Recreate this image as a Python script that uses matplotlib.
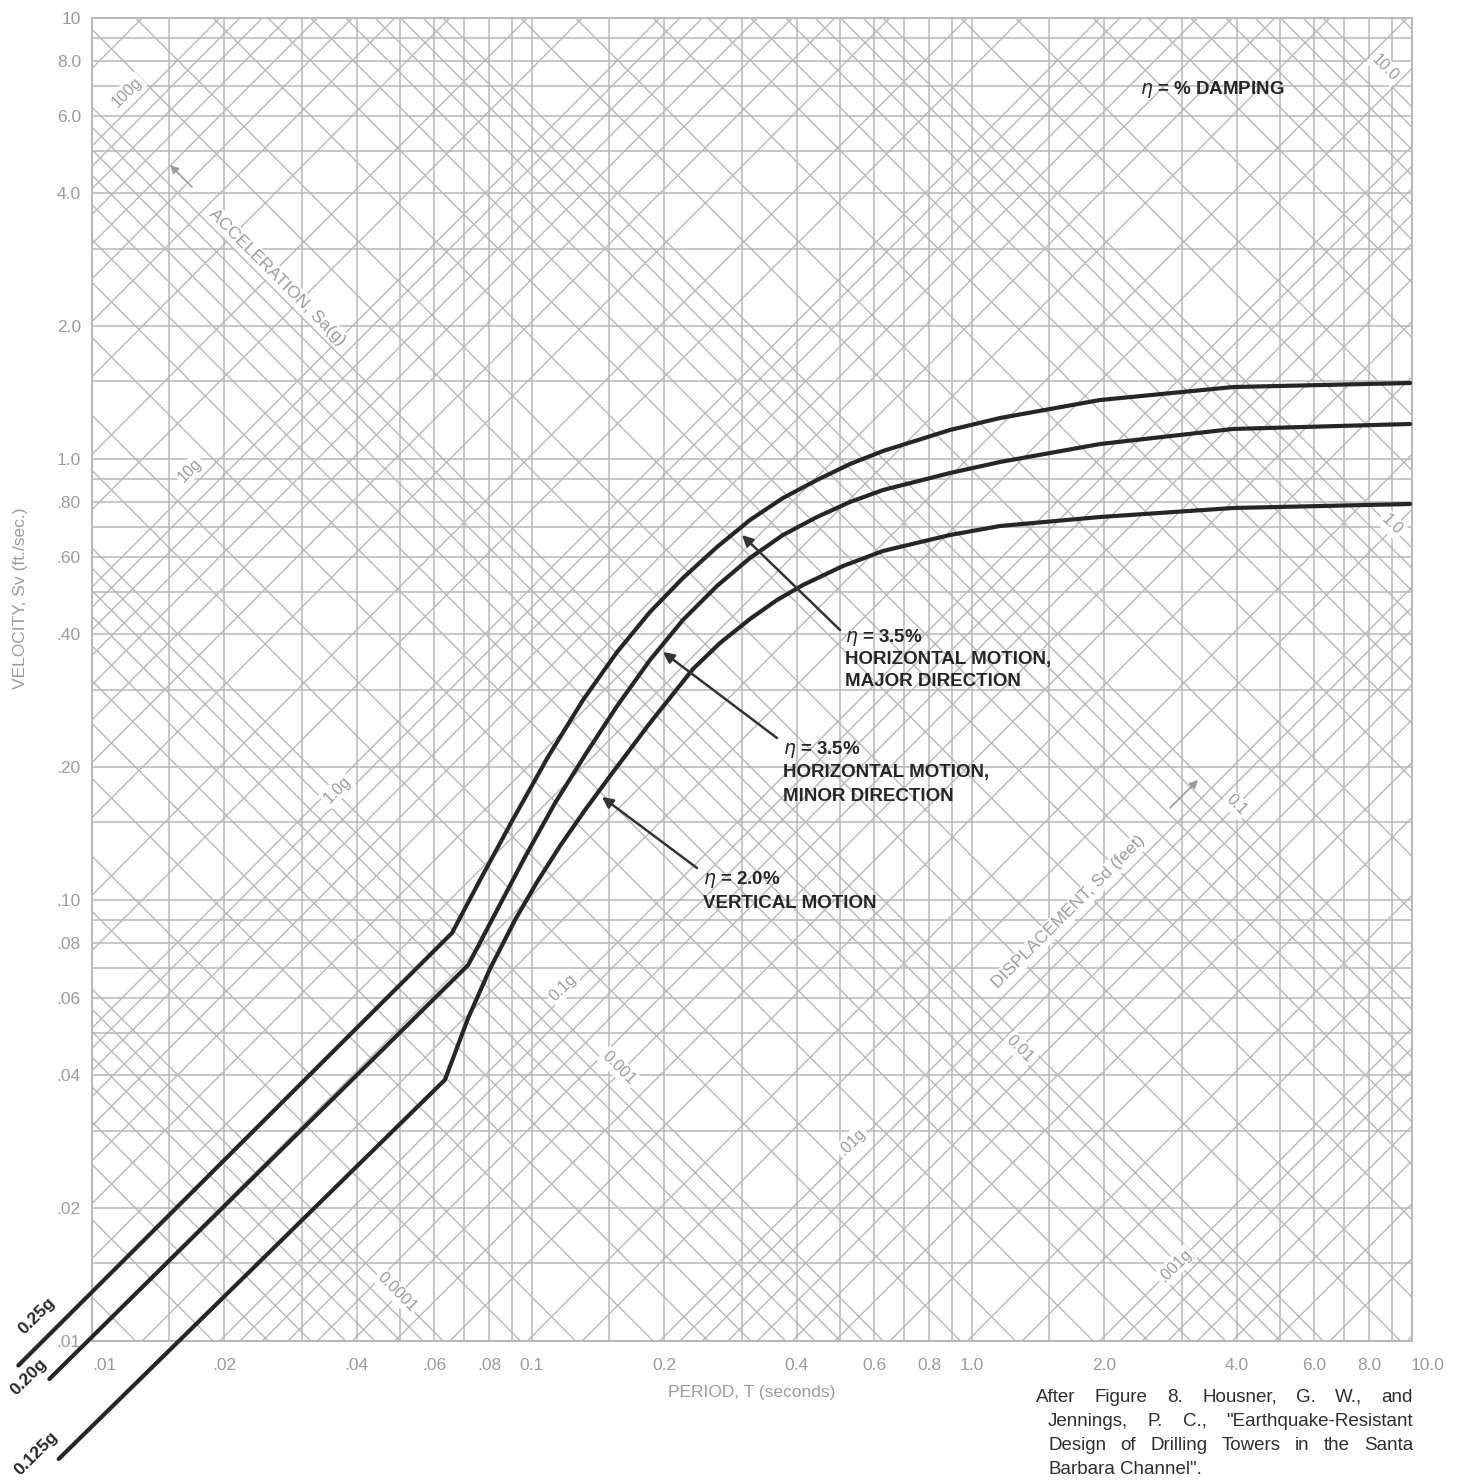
import numpy as np
import matplotlib
matplotlib.use("Agg")
import matplotlib.pyplot as plt
from matplotlib.transforms import IdentityTransform, ScaledTranslation

# ---------------- data ----------------
# Period T (s) and pseudo-velocity Sv (ft/s) for the three design spectra
T_major = [0.0068, 0.0658, 0.0762, 0.0901, 0.1087, 0.1306, 0.1561, 0.1854, 0.2203,
           0.2633, 0.3129, 0.3719, 0.4444, 0.5281, 0.6277, 0.8913, 1.158, 1.954, 3.920, 9.90]
V_major = [0.0088, 0.0842, 0.1110, 0.1511, 0.2110, 0.2841, 0.3651, 0.4498, 0.5372,
           0.6316, 0.7273, 0.8158, 0.8962, 0.9742, 1.0427, 1.1636, 1.2386, 1.3606, 1.4561, 1.4870]

T_minor = [0.0080, 0.0716, 0.0833, 0.0964, 0.1128, 0.1320, 0.1561, 0.1854, 0.2203,
           0.2633, 0.3129, 0.3719, 0.4444, 0.5281, 0.6277, 0.8913, 1.158, 1.954, 3.920, 9.90]
V_minor = [0.0082, 0.0712, 0.0949, 0.1252, 0.1659, 0.2132, 0.2754, 0.3501, 0.4315,
           0.5153, 0.5964, 0.6725, 0.7387, 0.7989, 0.8506, 0.9295, 0.9845, 1.0814, 1.1697, 1.2006]

T_vert = [0.0084, 0.0634, 0.0716, 0.0802, 0.0915, 0.1027, 0.1158, 0.1320, 0.1505,
          0.1854, 0.2322, 0.2675, 0.3129, 0.3604, 0.4130, 0.5091, 0.6277, 0.8913,
          1.158, 1.954, 3.920, 9.90]
V_vert = [0.0054, 0.0391, 0.0540, 0.0697, 0.0901, 0.1099, 0.1326, 0.1600, 0.1911,
          0.2520, 0.3341, 0.3826, 0.4337, 0.4789, 0.5180, 0.5720, 0.6186, 0.6725,
          0.7048, 0.7387, 0.7743, 0.7906]

curve_g_labels = ["0.25g", "0.20g", "0.125g"]

x_tick_values = [0.01, 0.02, 0.04, 0.06, 0.08, 0.1, 0.2, 0.4, 0.6, 0.8, 1, 2, 4, 6, 8, 10]
x_tick_labels = [".01", ".02", ".04", ".06", ".08", "0.1", "0.2", "0.4", "0.6", "0.8",
                 "1.0", "2.0", "4.0", "6.0", "8.0", "10.0"]
y_tick_values = [0.01, 0.02, 0.04, 0.06, 0.08, 0.1, 0.2, 0.4, 0.6, 0.8, 1, 2, 4, 6, 8, 10]
y_tick_labels = [".01", ".02", ".04", ".06", ".08", ".10", ".20", ".40", ".60", ".80",
                 "1.0", "2.0", "4.0", "6.0", "8.0", "10"]

grid_multipliers = [1, 1.5, 2, 3, 4, 5, 6, 7, 8, 9]
accel_labels = ["100g", "10g", "1.0g", "0.1g", ".01g", ".001g"]
disp_labels = ["10.0", "1.0", "0.1", "0.01", "0.001", "0.0001"]

caption_lines = ['After  Figure 8. Housner, G. W., and',
                 'Jennings, P. C., "Earthquake-Resistant',
                 'Design of Drilling Towers in the Santa',
                 'Barbara Channel".']

# ---------------- layout / style ----------------
W, H, DPI = 1468, 1484, 100
GRID = "#b8b8b8"
TICKC = "#9c9c9c"
INK = "#262626"
FONT = "Liberation Sans"
plt.rcParams["font.family"] = [FONT, "DejaVu Sans"]
plt.rcParams["mathtext.fontset"] = "dejavusans"

fig = plt.figure(figsize=(W / DPI, H / DPI), dpi=DPI)
fig.patch.set_facecolor("white")
AX_L, AX_R, AX_T, AX_B = 92, 1412, 18, 1341
ax = fig.add_axes([AX_L / W, 1 - AX_B / H, (AX_R - AX_L) / W, (AX_B - AX_T) / H])
ax.set_xscale("log")
ax.set_yscale("log")
ax.set_xlim(0.01, 10)
ax.set_ylim(0.01, 10)
ax.set_autoscale_on(False)


def fp(x, y):
    """reference pixel (top-left origin) -> figure pixels"""
    return (x, H - y)


# orthogonal grid
for k in range(-2, 1):
    for m in grid_multipliers:
        v = m * 10.0 ** k
        ax.axvline(v, color=GRID, lw=1.1, zorder=1)
        ax.axhline(v, color=GRID, lw=1.1, zorder=1)

# diagonal grid (tripartite): constant acceleration and constant displacement
G_FT = 32.2
Tline = np.array([1e-3, 1e2])
for k in range(-4, 3):
    for m in grid_multipliers:
        a = m * 10.0 ** k
        ax.plot(Tline, a * G_FT * Tline / (2 * np.pi), color=GRID, lw=1.0, zorder=1)
for k in range(-5, 2):
    for m in grid_multipliers:
        d = m * 10.0 ** k
        ax.plot(Tline, 2 * np.pi * d / Tline, color=GRID, lw=1.0, zorder=1)

for s in ax.spines.values():
    s.set_color(GRID)
    s.set_linewidth(1.4)

ax.set_xticks(x_tick_values)
ax.set_xticklabels(x_tick_labels)
ax.set_yticks(y_tick_values)
ax.set_yticklabels(y_tick_labels)
ax.minorticks_off()
ax.tick_params(axis="both", length=0, labelsize=12.5, labelcolor=TICKC)
ax.tick_params(axis="x", pad=12)
ax.tick_params(axis="y", pad=8)
xl = ax.get_xticklabels()
xl[0].set_transform(xl[0].get_transform() + ScaledTranslation(12 / DPI, 0, fig.dpi_scale_trans))
xl[-1].set_transform(xl[-1].get_transform() + ScaledTranslation(16 / DPI, 0, fig.dpi_scale_trans))

# spectra
for T, V in [(T_major, V_major), (T_minor, V_minor), (T_vert, V_vert)]:
    ax.plot(T, V, color=INK, lw=3.0, zorder=5, clip_on=False,
            solid_capstyle="round", solid_joinstyle="round")

# axis titles
fig.text(752 / W, 1 - 1393 / H, "PERIOD, T (seconds)", ha="center", va="center",
         fontsize=12.5, color=TICKC)
fig.text(21 / W, 1 - 598 / H, "VELOCITY, Sv (ft./sec.)", ha="center", va="center",
         rotation=90, fontsize=12.5, color=TICKC)

halo = dict(facecolor="white", edgecolor="none", pad=1.5)

# diagonal axis titles
fig.text(277 / W, 1 - 277 / H, "ACCELERATION, Sa(g)", ha="center", va="center",
         rotation=-45, rotation_mode="anchor", fontsize=12.5, color=TICKC, bbox=halo, zorder=6)
ax.annotate("", xy=fp(168, 163), xycoords="figure pixels", xytext=fp(194, 189),
            textcoords="figure pixels",
            arrowprops=dict(arrowstyle="-|>", color=TICKC, lw=1.2, mutation_scale=12))
fig.text(1069 / W, 1 - 912 / H, "DISPLACEMENT, Sd (feet)", ha="center", va="center",
         rotation=45, rotation_mode="anchor", fontsize=12.5, color=TICKC, bbox=halo, zorder=6)
ax.annotate("", xy=fp(1200, 778), xycoords="figure pixels", xytext=fp(1168, 810),
            textcoords="figure pixels",
            arrowprops=dict(arrowstyle="-|>", color=TICKC, lw=1.2, mutation_scale=12))

# diagonal value labels
accel_pos = [(127, 92), (190, 470), (337, 790), (563, 988), (852, 1142), (1175, 1266)]
for lab, (x, y) in zip(accel_labels, accel_pos):
    fig.text(x / W, 1 - y / H, lab, ha="center", va="center", rotation=45,
             rotation_mode="anchor", fontsize=11.5, color=TICKC, bbox=halo, zorder=6)
disp_pos = [(1385, 68), (1392, 525), (1236, 805), (1020, 1049), (619, 1068), (397, 1292)]
for lab, (x, y) in zip(disp_labels, disp_pos):
    fig.text(x / W, 1 - y / H, lab, ha="center", va="center", rotation=-45,
             rotation_mode="anchor", fontsize=11.5, color=TICKC, bbox=halo, zorder=6)

# curve annotations
lab_kw = dict(ha="left", va="center", fontsize=13.5, fontweight="bold", color=INK, zorder=8)
fig.text(1140 / W, 1 - 90 / H, r"$\eta$ = % DAMPING", **lab_kw)
blocks = [
    (845, [637, 659, 681], [r"$\eta$ = 3.5%", "HORIZONTAL MOTION,", "MAJOR DIRECTION"]),
    (783, [750, 773, 797], [r"$\eta$ = 3.5%", "HORIZONTAL MOTION,", "MINOR DIRECTION"]),
    (703, [880, 903], [r"$\eta$ = 2.0%", "VERTICAL MOTION"]),
]
for x, ys, lines in blocks:
    for y, t in zip(ys, lines):
        fig.text(x / W, 1 - y / H, t, **lab_kw)

arrows = [((840, 630), (742, 535)), ((777, 738), (663, 652)), ((697, 868), (602, 797))]
for tail, tip in arrows:
    ax.annotate("", xy=fp(*tip), xycoords="figure pixels", xytext=fp(*tail),
                textcoords="figure pixels", zorder=8,
                arrowprops=dict(arrowstyle="-|>", color="#333333", lw=1.8,
                                mutation_scale=16, shrinkA=0, shrinkB=0))

g_pos = [(37, 1316), (29, 1377), (36, 1453)]
for lab, (x, y) in zip(curve_g_labels, g_pos):
    fig.text(x / W, 1 - y / H, lab, ha="center", va="center", rotation=45,
             rotation_mode="anchor", fontsize=12.5, fontweight="bold", color=INK)

# justified caption
CAP_FS = 13.5
renderer = fig.canvas.get_renderer()
cap_ys = [1397, 1421, 1445, 1469]
cap_x1 = 1413
space_probe = fig.text(0, 0, "a a", fontsize=CAP_FS, transform=IdentityTransform())
nospace_probe = fig.text(0, 0, "aa", fontsize=CAP_FS, transform=IdentityTransform())
space_w = (space_probe.get_window_extent(renderer).width
           - nospace_probe.get_window_extent(renderer).width)
space_probe.remove()
nospace_probe.remove()
for i, (line, y) in enumerate(zip(caption_lines, cap_ys)):
    x0 = 1036 if i == 0 else 1048
    words = line.split()
    objs = [fig.text(x0, H - y, w, transform=IdentityTransform(), fontsize=CAP_FS,
                     color="#2e2e2e", ha="left", va="center") for w in words]
    widths = [o.get_window_extent(renderer).width for o in objs]
    if i < len(caption_lines) - 1 and len(words) > 1:
        gap = max(space_w, (cap_x1 - x0 - sum(widths)) / (len(words) - 1))
    else:
        gap = space_w
    x = x0
    for o, wd in zip(objs, widths):
        o.set_x(x)
        x += wd + gap

fig.savefig("out.png", dpi=DPI, facecolor="white")
